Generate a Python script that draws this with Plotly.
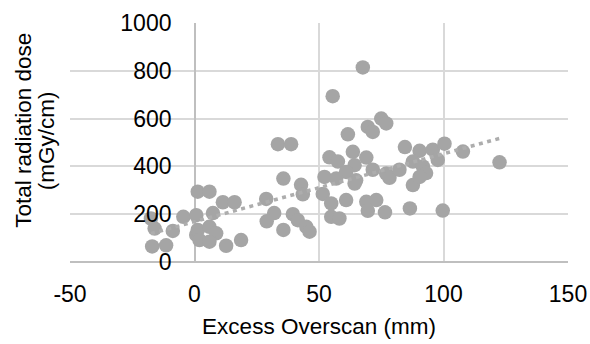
import numpy as np
import plotly.graph_objects as go

# Excess overscan (mm) and total radiation dose (mGy/cm)
overscan = [
    -17.5, -16.0, -17.0, -11.4, -8.7, -4.5, 0.7, 1.3, 6.0, 0.7,
    1.3, 6.0, 8.7, 2.0, 6.0, 12.7, 18.7, 11.4, 16.1, 7.4,
    28.8, 32.0, 29.0, 35.7,
    33.5, 38.8, 35.7, 42.8, 43.5, 51.5, 39.5, 41.5, 44.9, 46.2,
    54.2, 57.6, 63.6, 61.6, 69.6, 71.6, 75.0, 77.0, 67.6, 55.5,
    69.0, 71.6, 64.3, 60.9, 52.2, 56.9, 64.9, 64.3, 54.9, 60.9,
    69.0, 73.0, 69.6, 76.5, 54.9, 58.2, 77.0, 78.3,
    84.5, 90.4, 95.7, 100.4, 107.8, 122.5, 97.7, 87.7, 91.7, 82.3,
    93.0, 87.7, 86.5, 99.7, 90.4,
]
dose = [
    182, 140, 65, 70, 130, 189, 196, 294, 294, 113,
    134, 147, 120, 92, 85, 68, 92, 250, 250, 205,
    264, 205, 170, 134,
    493, 493, 349, 323, 283, 285, 200, 175, 147, 127,
    438, 420, 461, 534, 565, 544, 600, 580, 814, 694,
    437, 386, 405, 377, 356, 349, 342, 328, 245, 259,
    252, 259, 214, 208, 189, 182, 370, 352,
    481, 465, 470, 495, 462, 417, 427, 420, 400, 386,
    372, 322, 224, 215, 356,
]

x_ticks = [-50, 0, 50, 100, 150]
x_tick_labels = ["-50", "0", "50", "100", "150"]
y_ticks = [0, 200, 400, 600, 800, 1000]
y_tick_labels = ["0", "200", "400", "600", "800", "1000"]

# linear trendline
slope, intercept = np.polyfit(overscan, dose, 1)
tx = np.array([min(overscan), max(overscan)])
ty = slope * tx + intercept

FONT = "Liberation Sans, Arial, sans-serif"
GRAY = "#A5A5A5"

fig = go.Figure()
fig.add_trace(go.Scatter(
    x=overscan, y=dose, mode="markers",
    marker=dict(size=14.5, color=GRAY, line=dict(width=0)),
    showlegend=False, hoverinfo="skip",
))
fig.add_trace(go.Scatter(
    x=tx, y=ty, mode="lines",
    line=dict(color="#ADADAD", width=3.5, dash="4px,4.5px"),
    showlegend=False, hoverinfo="skip",
))

x_min, x_max = -50, 150
fig.update_layout(
    width=590, height=344,
    margin=dict(l=70, r=22, t=23, b=82),
    paper_bgcolor="white", plot_bgcolor="white",
    font=dict(family=FONT, size=23, color="#000000"),
    xaxis=dict(
        range=[x_min, x_max], tickvals=x_ticks, ticktext=x_tick_labels,
        showgrid=True, gridcolor="#D9D9D9", gridwidth=1.5,
        zeroline=True, zerolinecolor="#BFBFBF", zerolinewidth=2,
        showline=False, ticks="", ticklabelstandoff=16,
        tickfont=dict(size=23),
        title=dict(text="Excess Overscan (mm)", font=dict(size=22.5), standoff=12),
        automargin=False,
    ),
    yaxis=dict(
        range=[0, 1000], tickvals=y_ticks, ticktext=y_tick_labels,
        showgrid=True, gridcolor="#D9D9D9", gridwidth=1.5,
        zeroline=True, zerolinecolor="#BFBFBF", zerolinewidth=2,
        anchor="free", position=(0 - x_min) / (x_max - x_min),
        showline=False, ticks="", ticklabelstandoff=23,
        tickfont=dict(size=23),
        automargin=False,
    ),
    annotations=[
        dict(text="Total radiation dose", textangle=-90, showarrow=False,
             xref="paper", yref="paper", x=-0.095, y=0.552,
             xanchor="center", yanchor="middle", font=dict(size=22.5)),
        dict(text="(mGy/cm)", textangle=-90, showarrow=False,
             xref="paper", yref="paper", x=-0.048, y=0.506,
             xanchor="center", yanchor="middle", font=dict(size=22.5)),
    ],
)

fig.write_html("out.html", config={"displayModeBar": False},
               post_script="document.body.style.margin='0px';")
